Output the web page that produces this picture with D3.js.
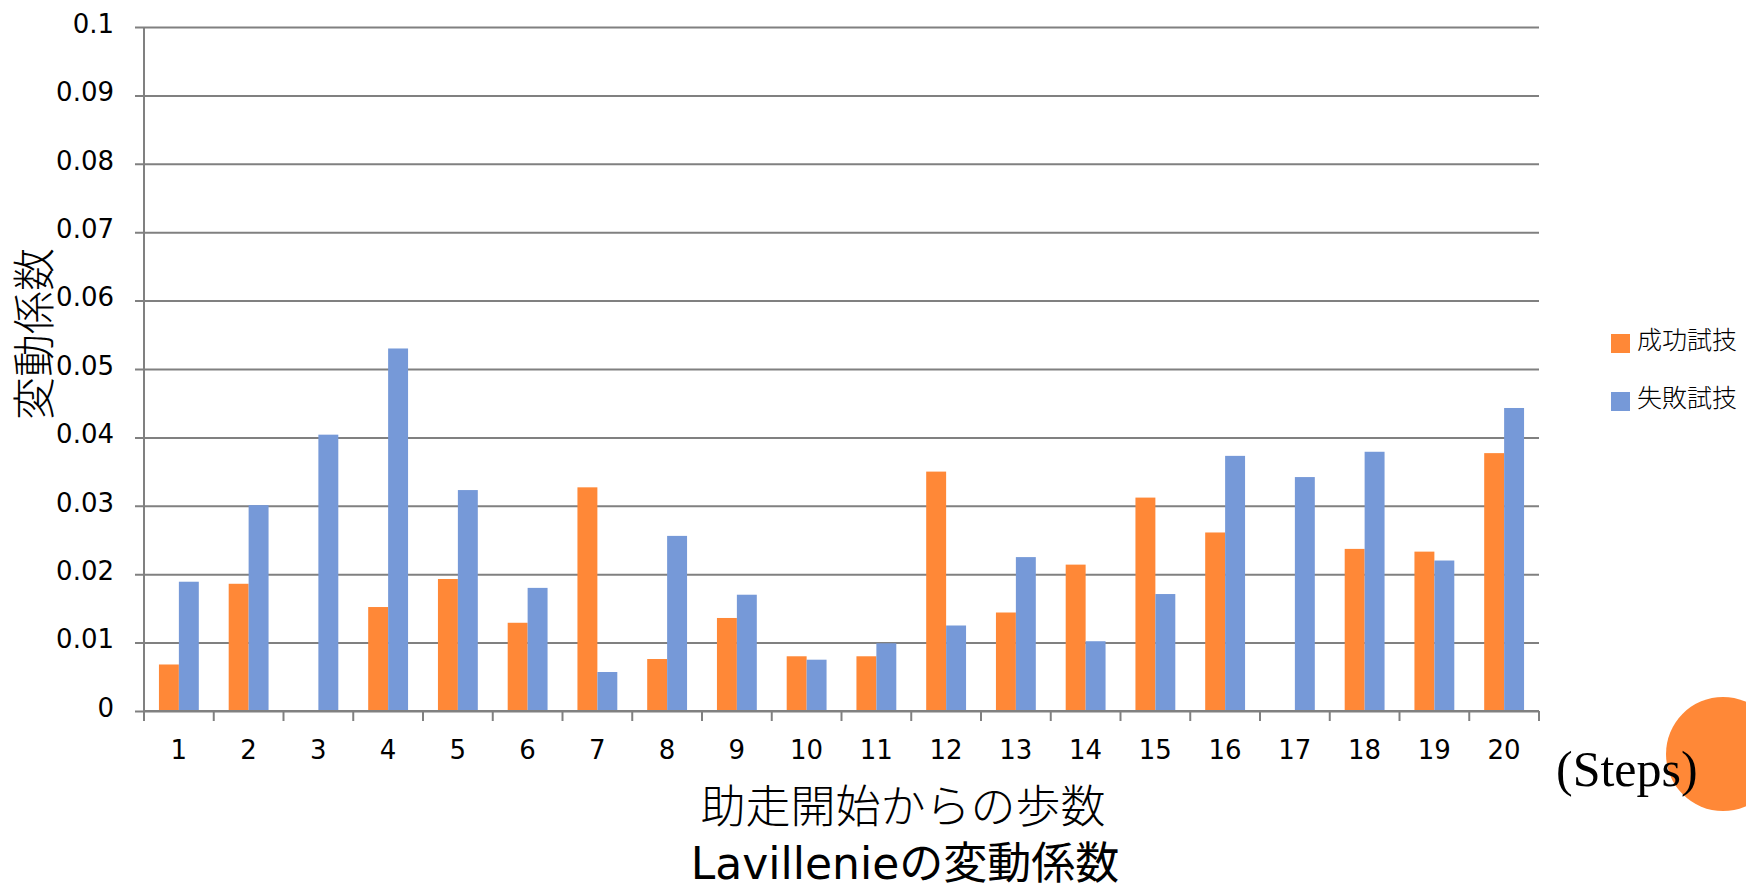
<!DOCTYPE html>
<html>
<head>
<meta charset="utf-8">
<script src="https://cdn.jsdelivr.net/npm/d3@7"></script>
<style>
  body { margin: 0; background: #fff; }
  svg { display: block; }
</style>
</head>
<body>
<div id="wrapper"></div>
<script>
// data
const steps = ["1","2","3","4","5","6","7","8","9","10","11","12","13","14","15","16","17","18","19","20"]
const successCV = [0.0068, 0.0186, 0, 0.0152, 0.0193, 0.0129, 0.0327, 0.0076, 0.0136, 0.0080,
                   0.0080, 0.0350, 0.0144, 0.0214, 0.0312, 0.0261, 0, 0.0237, 0.0233, 0.0377]
const failCV = [0.0189, 0.0301, 0.0404, 0.0530, 0.0323, 0.0180, 0.0057, 0.0256, 0.0170, 0.0075,
                0.0099, 0.0125, 0.0225, 0.0102, 0.0171, 0.0373, 0.0342, 0.0379, 0.0220, 0.0443]
const seriesNames = ["成功試技", "失敗試技"]
const yTicks = [0, 0.01, 0.02, 0.03, 0.04, 0.05, 0.06, 0.07, 0.08, 0.09, 0.1]

function drawBars() {
  const colors = ["#ff8837", "#7699d8"]
  const rows = steps.map((s, i) => ({step: s, values: [successCV[i], failCV[i]]}))

  let dimensions = {
    width: 1746,
    height: 889,
    margin: {top: 27, right: 207, bottom: 178, left: 144},
  }
  dimensions.boundedWidth = dimensions.width - dimensions.margin.left - dimensions.margin.right
  dimensions.boundedHeight = dimensions.height - dimensions.margin.top - dimensions.margin.bottom

  const wrapper = d3.select("#wrapper").append("svg")
      .attr("width", dimensions.width)
      .attr("height", dimensions.height)

  const bounds = wrapper.append("g")
      .attr("transform", `translate(${dimensions.margin.left},${dimensions.margin.top})`)

  // scales
  const xScale = d3.scaleBand()
      .domain(steps)
      .range([0, dimensions.boundedWidth])
      .paddingInner(0)
  const x1Scale = d3.scaleBand()
      .domain([0, 1])
      .range([0, xScale.bandwidth()])
      .paddingOuter(0.75)
  const yScale = d3.scaleLinear()
      .domain([0, 0.1])
      .range([dimensions.boundedHeight, 0])

  // gridlines + y labels
  const yAxis = bounds.append("g")
      .call(d3.axisLeft(yScale)
        .tickValues(yTicks)
        .tickFormat(d => d === 0 ? "0" : String(+d.toFixed(2)))
        .tickSizeOuter(0))
  yAxis.select(".domain").remove()
  yAxis.selectAll(".tick line")
      .attr("x1", -9)
      .attr("x2", dimensions.boundedWidth)
      .attr("stroke", "#808080")
      .attr("stroke-width", 2)
  yAxis.selectAll(".tick text")
      .attr("x", -30)
      .attr("dy", "0.2em")
      .attr("fill", "#000")
      .style("font-family", "'DejaVu Sans', Verdana, sans-serif")
      .style("font-size", "26px")

  // bars
  const groups = bounds.selectAll(".group")
      .data(rows).enter().append("g")
        .attr("class", "group")
        .attr("transform", d => `translate(${xScale(d.step)},0)`)
  groups.selectAll("rect")
      .data(d => d.values.map((v, k) => ({k, v})))
      .enter().append("rect")
        .attr("x", d => x1Scale(d.k))
        .attr("width", x1Scale.bandwidth())
        .attr("y", d => yScale(d.v))
        .attr("height", d => dimensions.boundedHeight - yScale(d.v))
        .attr("fill", d => colors[d.k])

  // left axis line
  bounds.append("line")
      .attr("x1", 0).attr("x2", 0)
      .attr("y1", 0).attr("y2", dimensions.boundedHeight)
      .attr("stroke", "#808080")
      .attr("stroke-width", 2)

  // x axis, ticks between categories
  const xAxis = bounds.append("g")
      .attr("transform", `translate(0,${dimensions.boundedHeight})`)
  xAxis.append("line")
      .attr("x1", 0).attr("x2", dimensions.boundedWidth)
      .attr("stroke", "#808080")
      .attr("stroke-width", 2)
  const boundaries = steps.map(s => xScale(s)).concat([dimensions.boundedWidth])
  xAxis.selectAll(".xtick")
      .data(boundaries).enter().append("line")
        .attr("class", "xtick")
        .attr("x1", d => d).attr("x2", d => d)
        .attr("y1", 0).attr("y2", 10)
        .attr("stroke", "#808080")
        .attr("stroke-width", 2)
  xAxis.selectAll(".xlabel")
      .data(steps).enter().append("text")
        .attr("class", "xlabel")
        .attr("x", d => xScale(d) + xScale.bandwidth() / 2)
        .attr("y", 48)
        .attr("text-anchor", "middle")
        .style("font-family", "'DejaVu Sans', Verdana, sans-serif")
        .style("font-size", "26px")
        .text(d => d)

  // y title
  wrapper.append("text")
      .attr("transform", "translate(50,334) rotate(-90)")
      .attr("text-anchor", "middle")
      .style("font-family", "'Noto Sans CJK JP', sans-serif")
      .style("font-weight", 300)
      .style("font-size", "43px")
      .text("変動係数")

  // x title, two lines
  wrapper.append("text")
      .attr("x", 903).attr("y", 823)
      .attr("text-anchor", "middle")
      .style("font-family", "'Noto Sans CJK JP', sans-serif")
      .style("font-weight", 300)
      .style("font-size", "45px")
      .text("助走開始からの歩数")
  wrapper.append("text")
      .attr("x", 905).attr("y", 879)
      .attr("text-anchor", "middle")
      .style("font-family", "'DejaVu Sans', 'Noto Sans CJK JP', sans-serif")
      .style("font-size", "44px")
      .text("Lavillenieの変動係数")

  // decoration circle + unit
  wrapper.append("circle")
      .attr("cx", 1723).attr("cy", 754).attr("r", 57)
      .attr("fill", colors[0])
  wrapper.append("text")
      .attr("x", 1556).attr("y", 786)
      .style("font-family", "'Liberation Serif', serif")
      .style("font-size", "50px")
      .text("(Steps)")

  // legend
  const legend = wrapper.append("g")
      .attr("transform", "translate(1611,334)")
  const items = legend.selectAll("g")
      .data(seriesNames).enter().append("g")
        .attr("transform", (d, i) => `translate(0,${i * 58})`)
  items.append("rect")
      .attr("width", 19).attr("height", 19)
      .attr("fill", (d, i) => colors[i])
  items.append("text")
      .attr("x", 26).attr("y", 15)
      .style("font-family", "'Noto Sans CJK JP', sans-serif")
      .style("font-weight", 300)
      .style("font-size", "25px")
      .text(d => d)
}
drawBars()
</script>
</body>
</html>
